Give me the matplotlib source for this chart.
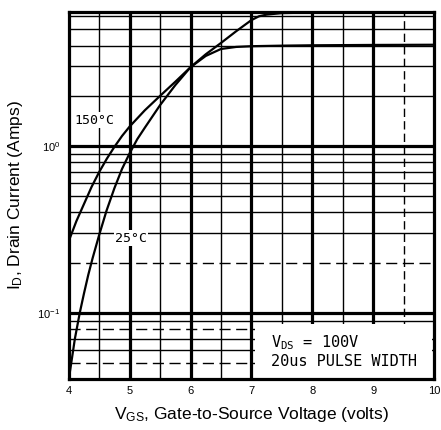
import numpy as np
import matplotlib
matplotlib.use("Agg")
import matplotlib.pyplot as plt
from matplotlib.ticker import FixedLocator, NullFormatter

plt.rcParams['font.family'] = ['Liberation Sans', 'DejaVu Sans']
plt.rcParams['mathtext.fontset'] = 'custom'
plt.rcParams['mathtext.rm'] = 'Liberation Sans'

# transfer characteristic
vgs_25 = [4.0, 4.04, 4.1, 4.18, 4.25, 4.32, 4.39, 4.5, 4.62, 4.75, 4.875,
          5.0, 5.125, 5.25, 5.5, 5.75, 6.0, 6.25, 6.5, 6.75, 7.0, 7.125,
          7.25, 7.5, 8.0, 9.0, 10.0]
id_25 = [0.04, 0.05, 0.07, 0.1, 0.131, 0.169, 0.212, 0.294, 0.41, 0.56, 0.73,
         0.906, 1.10, 1.29, 1.76, 2.32, 2.97, 3.55, 4.15, 4.88, 5.69, 6.0,
         6.14, 6.27, 6.32, 6.35, 6.37]

vgs_150 = [4.0, 4.125, 4.25, 4.375, 4.5, 4.625, 4.75, 4.875, 5.0, 5.25, 5.5,
           5.75, 6.0, 6.25, 6.5, 6.75, 7.0, 7.5, 8.0, 9.0, 10.0]
id_150 = [0.27, 0.355, 0.45, 0.57, 0.70, 0.84, 0.99, 1.15, 1.31, 1.64, 2.0,
          2.43, 2.97, 3.47, 3.82, 3.93, 3.97, 4.0, 4.02, 4.04, 4.05]

x_major = [4, 5, 6, 7, 8, 9, 10]
x_minor = [4.5, 5.5, 6.5, 7.5, 8.5, 9.5]
y_major = [0.1, 1.0]
y_minor = [0.05, 0.06, 0.07, 0.08, 0.09, 0.2, 0.3, 0.4, 0.5, 0.6, 0.7, 0.8,
           0.9, 2, 3, 4, 5, 6]
y_dashed = [0.05, 0.08, 0.2]

fig = plt.figure(figsize=(4.41, 4.30), dpi=100)
ax = fig.add_axes([0.156, 0.118, 0.828, 0.855])
ax.set_yscale('log')
ax.set_xlim(4, 10)
ax.set_ylim(0.04, 6.4)

# grid, drawn by hand so each line can get its own weight
for v in x_major[1:-1]:
    ax.axvline(v, color='black', lw=2.3, zorder=1)
for v in x_minor:
    if v == 9.5:
        ax.axvline(v, color='black', lw=1.0, ls=(0, (6, 3)), zorder=1)
    else:
        ax.axvline(v, color='black', lw=1.0, zorder=1)
for y in y_major:
    ax.axhline(y, color='black', lw=2.3, zorder=1)
for y in y_minor:
    if y in y_dashed:
        ax.axhline(y, color='black', lw=1.0, ls=(0, (8, 4)), zorder=1)
    else:
        ax.axhline(y, color='black', lw=1.0, zorder=1)

# blank patch behind the test conditions note
ax.fill_between([7.06, 9.97], 0.0405, 0.086, color='white', lw=0, zorder=2)

ax.plot(vgs_25, id_25, color='black', lw=1.6, zorder=3)
ax.plot(vgs_150, id_150, color='black', lw=1.6, zorder=3)

mono = ['DejaVu Sans Mono']
ax.text(4.1, 1.43, '150°C', family=mono, fontsize=9.5, va='center', ha='left',
        zorder=4, bbox=dict(fc='white', ec='none', pad=1))
ax.text(4.76, 0.28, '25°C', family=mono, fontsize=9.5, va='center', ha='left',
        zorder=4, bbox=dict(fc='white', ec='none', pad=1))
ax.text(7.33, 0.066, r'$\mathregular{V_{DS}}$ = 100V', family=mono,
        fontsize=11, va='center', ha='left', zorder=4)
ax.text(7.33, 0.051, '20us PULSE WIDTH', family=mono, fontsize=11,
        va='center', ha='left', zorder=4)

ax.set_xticks(x_major)
ax.set_xticklabels([str(v) for v in x_major])
ax.yaxis.set_major_locator(FixedLocator(y_major))
ax.set_yticklabels([r'$10^{-1}$', r'$10^{0}$'])
ax.yaxis.set_minor_locator(FixedLocator(y_minor))
ax.yaxis.set_minor_formatter(NullFormatter())
ax.tick_params(which='both', length=0, labelsize=8)
ax.tick_params(axis='x', pad=5)
ax.tick_params(axis='y', pad=6)

for s in ax.spines.values():
    s.set_linewidth(2.3)

ax.set_xlabel(r'$\mathregular{V_{GS}}$, Gate-to-Source Voltage (volts)',
              fontsize=12.5, labelpad=6)
ax.set_ylabel(r'$\mathregular{I_D}$, Drain Current (Amps)', fontsize=12.5,
              labelpad=9)

fig.savefig('out.png', dpi=100)
